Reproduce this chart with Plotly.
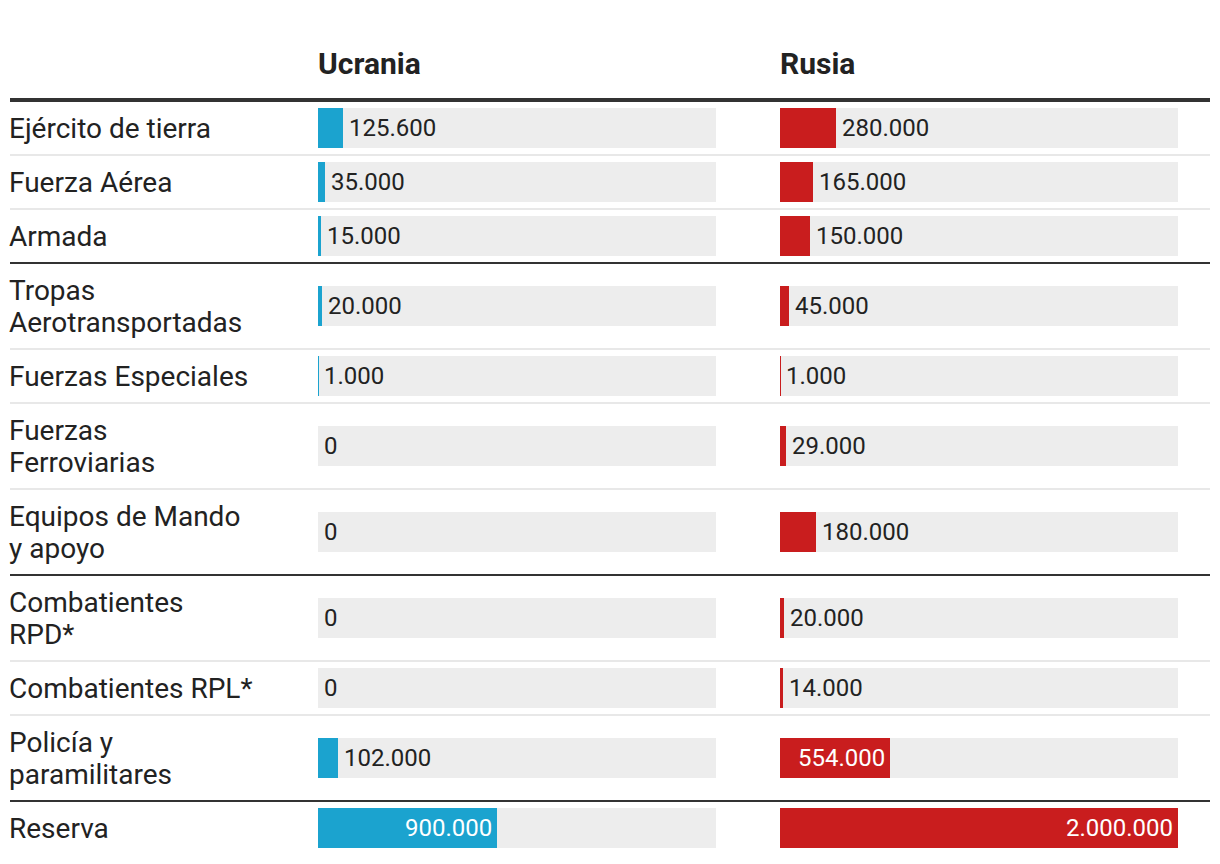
import plotly.graph_objects as go

# ---- data ----
categories = ["Ejército de tierra", "Fuerza Aérea", "Armada",
              "Tropas<br>Aerotransportadas", "Fuerzas Especiales",
              "Fuerzas<br>Ferroviarias", "Equipos de Mando<br>y apoyo",
              "Combatientes<br>RPD*", "Combatientes RPL*",
              "Policía y<br>paramilitares", "Reserva"]
ukraine = [125600, 35000, 15000, 20000, 1000, 0, 0, 0, 0, 102000, 900000]
russia = [280000, 165000, 150000, 45000, 1000, 29000, 180000, 20000, 14000, 554000, 2000000]
columns = ["Ucrania", "Rusia"]
group_end = [2, 6, 9]  # index of last row of each group (dark separator below)
scale_max = 2000000

# ---- layout constants ----
W, H = 1220, 864
OFF = 8  # page body margin
BLUE, RED, GRAY = "#1ba3cf", "#c91d1e", "#ededed"
TXT = "#222222"
FONT = "Roboto, Arial, sans-serif"


def px(p):
    return (p - OFF) / W


top = 101
row_h = [86 if "<br>" in c else 54 for c in categories]
centers, bounds = [], []
y = top
for h in row_h:
    centers.append(y + h / 2)
    y += h
    bounds.append(y)


def fmt(v):
    return f"{v:,}".replace(",", ".")


fig = go.Figure()
axes = [("x", "y", ukraine, BLUE), ("x2", "y", russia, RED)]
for xa, ya, vals, col in axes:
    fig.add_trace(go.Bar(x=[scale_max] * len(vals), y=centers, orientation="h",
                         width=40, marker=dict(color=GRAY, line=dict(width=0)),
                         xaxis=xa, yaxis=ya, hoverinfo="skip", showlegend=False))
    fig.add_trace(go.Bar(x=vals, y=centers, orientation="h", width=40,
                         marker=dict(color=col, line=dict(width=0)),
                         xaxis=xa, yaxis=ya, showlegend=False))

annotations = []
for xa, ya, vals, col in axes:
    for v, c in zip(vals, centers):
        inside = v >= 500000
        annotations.append(dict(
            x=v, y=c, xref=xa, yref=ya, text=fmt(v), showarrow=False,
            xanchor="right" if inside else "left", yanchor="middle",
            xshift=-3 if inside else 4,
            font=dict(family=FONT, size=24, color="white" if inside else TXT)))

for cat, c in zip(categories, centers):
    lines = cat.split("<br>")
    n = len(lines)
    for k, ln in enumerate(lines):
        yc = c + (k - (n - 1) / 2) * 32
        annotations.append(dict(x=px(10), y=yc, xref="paper", yref="y", text=ln,
                                showarrow=False, xanchor="left", yanchor="middle",
                                xshift=-3, align="left",
                                font=dict(family=FONT, size=28, color=TXT)))

for name, xpos in zip(columns, [318, 780]):
    annotations.append(dict(x=px(xpos), y=63, xref="paper", yref="y",
                            text=f"<b>{name}</b>", showarrow=False,
                            xanchor="left", yanchor="middle", xshift=-2,
                            font=dict(family=FONT, size=30, color=TXT)))

shapes = [dict(type="line", xref="paper", yref="y", x0=px(10), x1=px(1210),
               y0=top - 1, y1=top - 1, line=dict(color="#333333", width=4))]
for i, b in enumerate(bounds[:-1]):
    dark = i in group_end
    shapes.append(dict(type="line", xref="paper", yref="y", x0=px(10), x1=px(1210),
                       y0=b, y1=b, layer="below",
                       line=dict(color="#333333" if dark else "#e8e8e8", width=2)))

fig.update_layout(
    width=W, height=H, margin=dict(l=0, r=0, t=0, b=0),
    paper_bgcolor="white", plot_bgcolor="white", barmode="overlay",
    bargap=0, showlegend=False,
    xaxis=dict(domain=[px(318), px(716)], range=[0, scale_max], visible=False, fixedrange=True),
    xaxis2=dict(domain=[px(780), px(1178)], range=[0, scale_max], visible=False, fixedrange=True),
    yaxis=dict(domain=[0, 1], range=[H + OFF, OFF], visible=False, fixedrange=True),
    annotations=annotations, shapes=shapes,
    font=dict(family=FONT, color=TXT),
)
fig.write_html("out.html", config={"displayModeBar": False})
